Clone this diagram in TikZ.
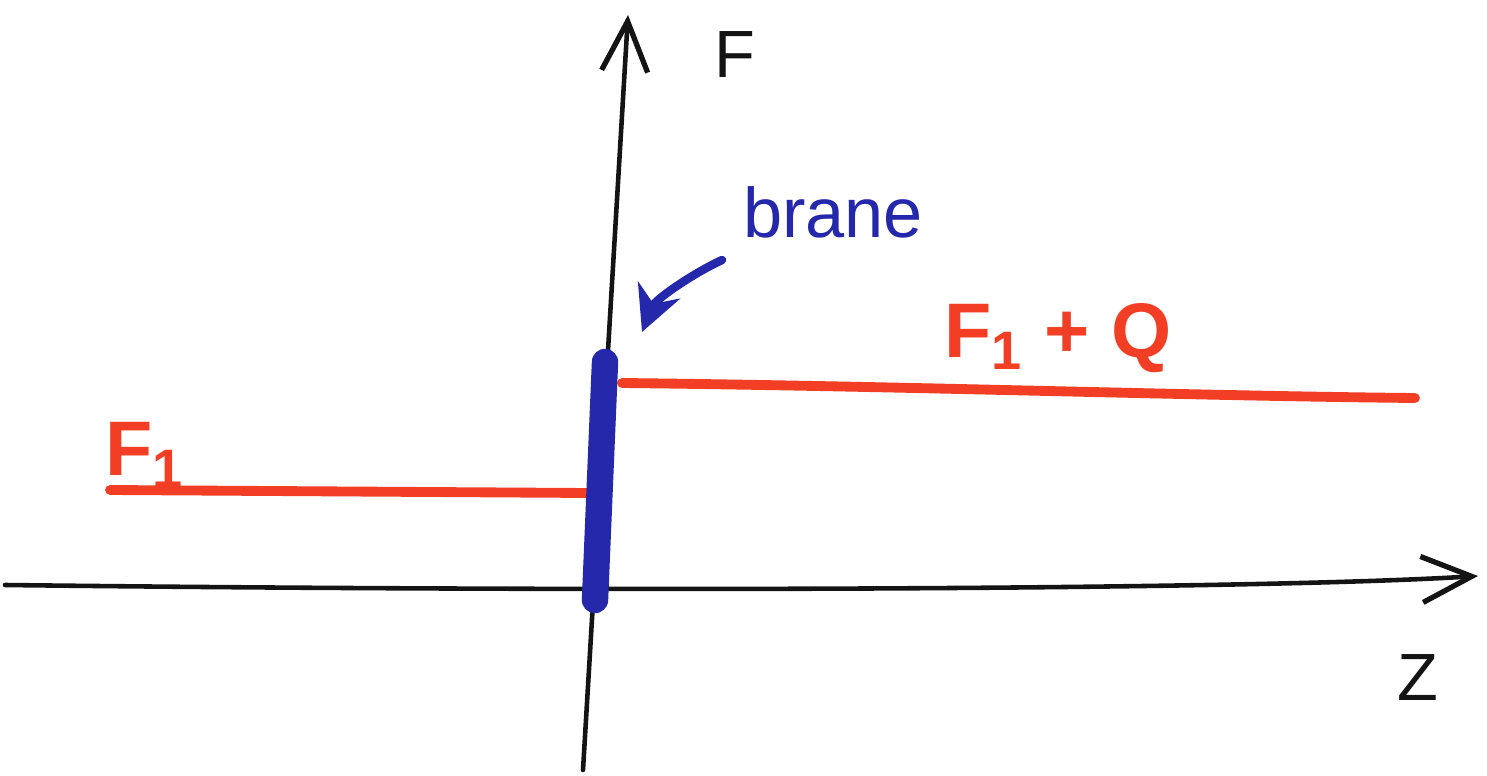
\documentclass[tikz,border=0pt]{standalone}
\usepackage{fontspec}
\setmainfont{Liberation Sans}
\usetikzlibrary{arrows.meta}
\definecolor{pen}{RGB}{20,20,20}
\definecolor{redpen}{RGB}{242,62,36}
\definecolor{bluepen}{RGB}{38,40,172}
\begin{document}
\begin{tikzpicture}[x=0.01cm,y=-0.01cm,
  axis/.style={draw=pen,line width=1.3pt,line cap=round,-{Straight Barb[length=5mm,width=4.6mm,line width=1.5pt]}},
  level/.style={draw=redpen,line width=2.8pt,line cap=round},
  branebar/.style={draw=bluepen,line width=7.5pt,line cap=round},
  pointer/.style={draw=bluepen,line width=2.4pt,line cap=round,-{Stealth[length=4.5mm,width=4.5mm]}},
  axlabel/.style={text=pen,font=\fontsize{19}{22}\selectfont},
  redlabel/.style={text=redpen,font=\fontsize{22}{26}\selectfont\bfseries},
  bluelabel/.style={text=bluepen,font=\fontsize{20}{24}\selectfont}]
\useasboundingbox (0,0) rectangle (1487,776);
% coordinates
\coordinate (xs) at (5,585);
\coordinate (xe) at (1478,576);
\coordinate (ys) at (583,770);
\coordinate (ye) at (628,15);
\coordinate (l1) at (110,490);
\coordinate (l2) at (588,493);
\coordinate (r1) at (622,383);
\coordinate (r2) at (1415,398);
\coordinate (b1) at (605,362);
\coordinate (b2) at (595,600);
\coordinate (p1) at (722,260);
\coordinate (p2) at (642,332);
% axes
\draw[axis] (xs) .. controls (600,592) and (1250,590) .. (xe);
\draw[axis] (ys) -- (ye);
% levels
\draw[level] (l1) -- (l2);
\draw[level] (r1) .. controls (900,386) and (1200,396) .. (r2);
% brane
\draw[branebar] (b1) -- (b2);
\draw[pointer] (p1) .. controls (690,275) and (655,300) .. (p2);
% labels
\node[axlabel] (F) at (735,55) {F};
\node[axlabel] (Z) at (1418,678) {Z};
\node[redlabel] (lF) at (145,455) {F\textsubscript{1}};
\node[redlabel] (rF) at (1058,338) {F\textsubscript{1} + Q};
\node[bluelabel] (br) at (833,212) {brane};
\end{tikzpicture}
\end{document}
